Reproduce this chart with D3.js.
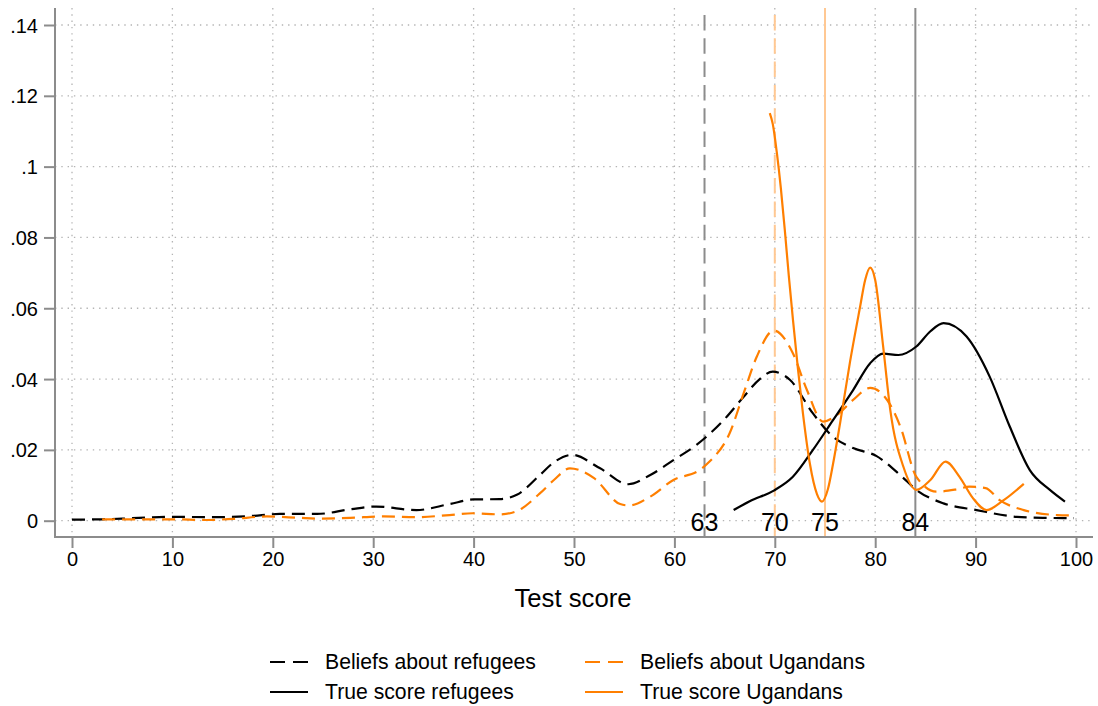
<!DOCTYPE html>
<html>
<head>
<meta charset="utf-8">
<script src="https://cdn.jsdelivr.net/npm/d3@7"></script>
<style>
  body { margin: 0; background: #fff; }
  text { font-family: "Liberation Sans", Arial, Helvetica, sans-serif; }
</style>
</head>
<body>
<svg width="1098" height="706"></svg>
<script>
// tick values / labels
var xTicks = [0, 10, 20, 30, 40, 50, 60, 70, 80, 90, 100];
var yTicks = [0, 0.02, 0.04, 0.06, 0.08, 0.1, 0.12, 0.14];
var yTickLabels = ["0", ".02", ".04", ".06", ".08", ".1", ".12", ".14"];

// reference lines (xline)
var refValues = [63, 70, 75, 84];
var refLabels = ["63", "70", "75", "84"];

var seriesNames = ["Beliefs about refugees", "Beliefs about Ugandans", "True score refugees", "True score Ugandans"];

// Beliefs about refugees (density)
var beliefRefX = [0, 3, 6, 10, 14, 17.7, 20.7, 24.4, 27.7, 30.3, 34.3, 37.6, 40, 42.6, 44.3, 46.6, 48, 49.8, 52.6, 55.4, 57.6, 59.9, 62.2, 64.9, 66.9, 68.5, 69.8, 71.5, 73.8, 75.8, 77.8, 80.1, 82.6, 84.1, 86.8, 90.1, 94.1, 97, 99.8];
var beliefRefY = [.0003, .0004, .0007, .0011, .001, .0013, .0019, .0019, .0032, .004, .003, .0047, .006, .0061, .0073, .0129, .0165, .0186, .0148, .0103, .0129, .0171, .0214, .0284, .035, .040, .0421, .0398, .0303, .0237, .0205, .0183, .0126, .0087, .0049, .003, .0011, .0008, .0007];

// Beliefs about Ugandans
var beliefUgaX = [3, 6, 10, 13.4, 16, 19.4, 22.7, 24.4, 27.7, 31, 34.3, 37.6, 39.9, 42.6, 44.3, 46.6, 48, 49.6, 52, 54.6, 55.5, 57.6, 59.9, 62.5, 63.5, 65.5, 66.9, 68.2, 69.9, 71.8, 73.2, 74.8, 76.2, 77.8, 79.5, 81.5, 82.5, 84.1, 86.1, 88, 89.4, 91, 92.4, 94.8, 98.1, 99.6];
var beliefUgaY = [.0004, .0004, .0004, .0002, .0005, .0012, .0008, .0006, .0008, .0012, .001, .0016, .0021, .0018, .0027, .0077, .0115, .0148, .012, .0047, .0043, .0068, .0115, .0143, .0167, .0247, .036, .0463, .0537, .0473, .0369, .028, .0299, .0341, .0375, .0327, .0266, .0124, .0082, .0088, .0096, .0092, .0058, .003, .0016, .0015];

// True score refugees
var trueRefX = [65.9, 67.5, 69.9, 71.8, 73.8, 75.8, 77.8, 79.5, 80.8, 82.3, 84.1, 85.5, 86.8, 89.1, 91.4, 93.4, 95.4, 97.4, 98.9];
var trueRefY = [.003, .0055, .0085, .0124, .020, .0284, .0369, .0445, .0472, .0468, .0492, .0535, .0558, .052, .0407, .0266, .0143, .0087, .0054];

// True score Ugandans
var trueUgaX = [69.5, 69.8, 70.2, 70.6, 71.0, 71.4, 71.8, 72.3, 72.8, 73.5, 74.2, 74.7, 75.3, 75.8, 76.5, 77.5, 78.5, 79.0, 79.5, 80.0, 80.8, 81.5, 82.8, 84.1, 85.5, 87, 88.4, 89.7, 91.1, 92.8, 94.8];
var trueUgaY = [.1151, .112, .104, .094, .082, .069, .057, .043, .0304, .016, .0075, .0054, .009, .016, .0275, .045, .0605, .068, .0715, .068, .049, .0313, .0153, .0087, .0115, .0167, .0124, .0065, .003, .0058, .0104];

var black = "#000000", orange = "#ff7f00", lightOrange = "#ffc893", gray = "#8c8c8c";

var svg = d3.select("svg");
var x = d3.scaleLinear().domain([0, 100]).range([72, 1076]);
var y = d3.scaleLinear().domain([0, 0.14]).range([520.7, 25]);
var plotLeft = 55, plotRight = 1093, plotTop = 8, plotBottom = 537;

// grid
svg.append("g").selectAll("line").data(yTicks).join("line")
    .attr("x1", plotLeft).attr("x2", plotRight)
    .attr("y1", function(d) { return y(d); }).attr("y2", function(d) { return y(d); })
    .attr("stroke", "#b4b4b4").attr("stroke-width", 1.3).attr("stroke-dasharray", "1.4,4.9");
svg.append("g").selectAll("line").data(xTicks).join("line")
    .attr("y1", plotTop).attr("y2", plotBottom)
    .attr("x1", function(d) { return x(d); }).attr("x2", function(d) { return x(d); })
    .attr("stroke", "#b4b4b4").attr("stroke-width", 1.3).attr("stroke-dasharray", "1.4,4.9");

// reference lines
var refStyle = [
  { color: gray, dash: "15.5,7.8" },
  { color: lightOrange, dash: "15.5,7.8" },
  { color: lightOrange, dash: null },
  { color: gray, dash: null }
];
svg.append("g").selectAll("line").data(refValues).join("line")
    .attr("x1", function(d) { return x(d); }).attr("x2", function(d) { return x(d); })
    .attr("y1", function(d, i) { return refStyle[i].dash ? 15 : plotTop; }).attr("y2", plotBottom)
    .attr("stroke", function(d, i) { return refStyle[i].color; })
    .attr("stroke-width", 2)
    .attr("stroke-dasharray", function(d, i) { return refStyle[i].dash; });

// axes
var yAxis = d3.axisLeft(y).tickValues(yTicks).tickFormat(function(d, i) { return yTickLabels[i]; })
    .tickSize(11).tickSizeOuter(0).tickPadding(6);
var gy = svg.append("g").attr("transform", "translate(" + plotLeft + ",0)").call(yAxis);
var xAxis = d3.axisBottom(x).tickValues(xTicks).tickSize(11).tickSizeOuter(0).tickPadding(4);
var gx = svg.append("g").attr("transform", "translate(0," + plotBottom + ")").call(xAxis);
[gx, gy].forEach(function(g) {
  g.select(".domain").remove();
  g.selectAll(".tick line").attr("stroke", gray).attr("stroke-width", 2);
  g.selectAll(".tick text").attr("fill", "#000").style("font-size", "20px")
    .style("font-family", "'Liberation Sans', Arial, sans-serif");
});
gy.selectAll(".tick text").attr("dy", "0.35em");

svg.append("line").attr("x1", plotLeft).attr("x2", plotLeft).attr("y1", plotTop).attr("y2", plotBottom + 1)
    .attr("stroke", gray).attr("stroke-width", 2);
svg.append("line").attr("x1", plotLeft - 1).attr("x2", plotRight).attr("y1", plotBottom).attr("y2", plotBottom)
    .attr("stroke", gray).attr("stroke-width", 2);

svg.append("text").attr("x", 573).attr("y", 607).attr("text-anchor", "middle")
    .style("font-size", "25.7px").text("Test score");

// curves
var series = [
  { xs: beliefRefX, ys: beliefRefY, color: black, dash: "13,7" },
  { xs: beliefUgaX, ys: beliefUgaY, color: orange, dash: "13,7" },
  { xs: trueRefX, ys: trueRefY, color: black, dash: null },
  { xs: trueUgaX, ys: trueUgaY, color: orange, dash: null }
];
var line = d3.line().x(function(d) { return x(d[0]); }).y(function(d) { return y(d[1]); })
    .curve(d3.curveMonotoneX);
series.forEach(function(s) {
  svg.append("path")
      .datum(d3.zip(s.xs, s.ys))
      .attr("d", line)
      .attr("fill", "none")
      .attr("stroke", s.color)
      .attr("stroke-width", 2.2)
      .attr("stroke-linejoin", "round")
      .attr("stroke-dasharray", s.dash);
});

// reference labels
svg.append("g").selectAll("text").data(refValues).join("text")
    .attr("x", function(d) { return x(d); }).attr("y", 530.5)
    .attr("text-anchor", "middle").style("font-size", "25px")
    .text(function(d, i) { return refLabels[i]; });

// legend
var legendPos = [[270, 662], [585, 662], [270, 692], [585, 692]];
var lg = svg.append("g").selectAll("g").data(series).join("g")
    .attr("transform", function(d, i) { return "translate(" + legendPos[i][0] + "," + legendPos[i][1] + ")"; });
lg.append("line").attr("x1", 0).attr("x2", 38).attr("y1", 0).attr("y2", 0)
    .attr("stroke", function(d) { return d.color; }).attr("stroke-width", 2.2)
    .attr("stroke-dasharray", function(d) { return d.dash ? "15,8" : null; });
lg.append("text").attr("x", 55).attr("y", 0).attr("dy", "0.35em")
    .style("font-size", "21.2px")
    .text(function(d, i) { return seriesNames[i]; });
</script>
</body>
</html>
